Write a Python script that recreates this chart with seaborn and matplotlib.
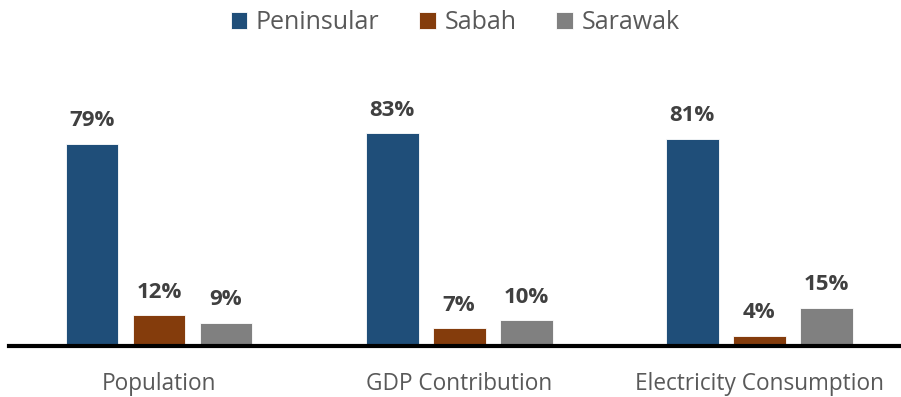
import matplotlib
matplotlib.use("Agg")
import matplotlib.pyplot as plt
import seaborn as sns
import pandas as pd

categories = ["Population", "GDP Contribution", "Electricity Consumption"]
regions = ["Peninsular", "Sabah", "Sarawak"]
peninsular = [79, 83, 81]
sabah = [12, 7, 4]
sarawak = [9, 10, 15]
colors = ["#1F4E79", "#843C0C", "#808080"]

df = pd.DataFrame({
    "category": categories * 3,
    "region": [r for r in regions for _ in categories],
    "share": peninsular + sabah + sarawak,
})

sns.set_theme(style="white")
plt.rcParams["font.family"] = ["Open Sans", "DejaVu Sans"]

fig = plt.figure(figsize=(9.01, 3.97), dpi=100)
ax = fig.add_axes([9 / 901, 0.1285, 1.0 - 9 / 901, 0.645])

sns.barplot(data=df, x="category", y="share", hue="region", order=categories,
            hue_order=regions, palette=colors, saturation=1, width=0.67, gap=0.21,
            edgecolor="white", linewidth=0.6, ax=ax, legend=True)

for cont in ax.containers:
    ax.bar_label(cont, labels=[f"{v:.0f}%" for v in cont.datavalues], padding=9,
                 fontsize=16, fontweight="bold", color="#404040")

ax.set_xlim(-0.5, 2.473)
ax.set_ylim(0, 100)
ax.set_xlabel("")
ax.set_ylabel("")
ax.set_yticks([])
for s in ["top", "right", "left"]:
    ax.spines[s].set_visible(False)
ax.spines["bottom"].set_color("black")
ax.spines["bottom"].set_linewidth(3)
ax.tick_params(axis="x", length=0, pad=19, labelsize=16.3, labelcolor="#595959")

handles, labels = ax.get_legend_handles_labels()
ax.legend(handles, labels, loc="upper center", bbox_to_anchor=(0.505, 1.0),
          bbox_transform=fig.transFigure, ncol=3, frameon=False, fontsize=18,
          handlelength=0.65, handleheight=0.65, handletextpad=0.35,
          columnspacing=1.6, labelcolor="#595959", borderaxespad=0.0)

fig.savefig("out.png", dpi=100)
